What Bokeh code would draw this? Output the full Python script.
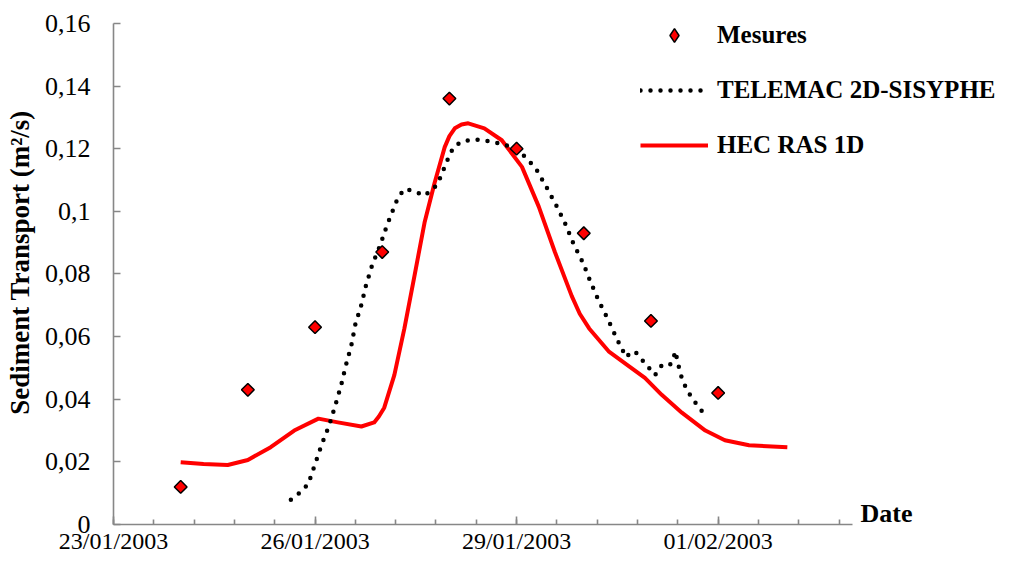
import numpy as np
import pandas as pd
from bokeh.plotting import figure
from bokeh.models import (Range1d, FixedTicker, Legend, LegendItem, Label,
                          DatetimeTickFormatter)
from bokeh.embed import file_html
from bokeh.resources import INLINE

# ---------------- data ----------------
START = "23/01/2003"
END = "03/02/2003"

x_tick_labels = ["23/01/2003", "26/01/2003", "29/01/2003", "01/02/2003"]
x_minor_step_days = 0.6
y_ticks = [0, 0.02, 0.04, 0.06, 0.08, 0.1, 0.12, 0.14, 0.16]
y_tick_labels = ["0", "0,02", "0,04", "0,06", "0,08", "0,1", "0,12", "0,14", "0,16"]

# days after 23/01/2003 00:00
mesures_day = [1, 2, 3, 4, 5, 6, 7, 8, 9]
mesures_val = [0.012, 0.043, 0.063, 0.087, 0.136, 0.120, 0.093, 0.065, 0.042]

hec_day = [1.00, 1.34, 1.70, 2.00, 2.34, 2.69, 3.05, 3.34, 3.69, 3.88, 3.95, 4.03, 4.18,
           4.33, 4.48, 4.63, 4.78, 4.93, 5.00, 5.08, 5.18, 5.28, 5.52, 5.78, 6.08, 6.33, 6.57,
           6.82, 6.94, 7.08, 7.37, 7.67, 7.91, 8.16, 8.46, 8.81, 9.10, 9.46, 10.03]
hec_val = [0.0199, 0.0193, 0.0190, 0.0206, 0.0247, 0.0300, 0.0338, 0.0326, 0.0313,
           0.0326, 0.0345, 0.0373, 0.0477, 0.0626, 0.0794, 0.0964, 0.1091, 0.1205, 0.1240,
           0.1265, 0.1277, 0.1281, 0.1265, 0.1227, 0.1142, 0.1015, 0.0870, 0.0730, 0.0673,
           0.0626, 0.0553, 0.0506, 0.0468, 0.0414, 0.0357, 0.0300, 0.0269, 0.0253, 0.0247]

telemac_day = [2.64, 2.79, 2.90, 3.00, 3.10, 3.21, 3.30, 3.39, 3.46, 3.54,
               3.60, 3.69, 3.76, 3.85, 3.97, 4.07, 4.18, 4.24, 4.34, 4.49,
               4.63, 4.82, 4.88, 5.00, 5.07, 5.21, 5.36, 5.51, 5.66, 5.81,
               5.94, 6.07, 6.19, 6.30, 6.45, 6.60, 6.73, 6.85, 6.99, 7.10,
               7.22, 7.36, 7.49, 7.63, 7.69, 7.76, 7.87, 7.97, 8.06, 8.15,
               8.27, 8.33, 8.36, 8.40, 8.43, 8.48, 8.55, 8.64, 8.73, 8.82]
telemac_val = [0.0079, 0.0104, 0.0130, 0.0193, 0.0256, 0.0316, 0.0379, 0.0446, 0.0509, 0.0572,
               0.0639, 0.0702, 0.0765, 0.0828, 0.0892, 0.0955, 0.1015, 0.1047, 0.1072, 0.1062,
               0.1050, 0.1085, 0.1116, 0.1179, 0.1208, 0.1224, 0.1230, 0.1227, 0.1221, 0.1214,
               0.1202, 0.1186, 0.1160, 0.1132, 0.1075, 0.1015, 0.0958, 0.0895, 0.0835, 0.0775,
               0.0715, 0.0655, 0.0594, 0.0534, 0.0547, 0.0553, 0.0525, 0.0500, 0.0477, 0.0506,
               0.0506, 0.0525, 0.0553, 0.0519, 0.0487, 0.0455, 0.0424, 0.0395, 0.0370, 0.0345]

# ---------------- layout (pixels) ----------------
W, H = 999, 556
LEFT = 113                # frame left = y axis position
AX_RIGHT = 852            # where the x axis ends
Y0_PX, Y16_PX = 526, 23   # pixel rows of 0 and 0.16
FONT = "Liberation Serif"
AXIS_GREY = "#878787"

t0 = pd.to_datetime(START, format="%d/%m/%Y")
t1 = pd.to_datetime(END, format="%d/%m/%Y")
EPOCH = pd.Timestamp("1970-01-01")


def to_dates(days):
    return list(t0 + pd.to_timedelta(np.asarray(days, dtype=float), unit="D"))


def to_ms(ts):
    return (ts - EPOCH) / pd.Timedelta(milliseconds=1)


span_days = (t1 - t0) / pd.Timedelta(days=1)
px_per_day = (AX_RIGHT - LEFT) / span_days
x_end = t0 + pd.Timedelta(days=(W - LEFT) / px_per_day)

y_top = y_ticks[-1]
px_per_val = (Y0_PX - Y16_PX) / y_top
y_end = y_top + Y16_PX / px_per_val

major_dates = [pd.to_datetime(s, format="%d/%m/%Y") for s in x_tick_labels]
major_ms = [to_ms(d) for d in major_dates]
n_minor = int(round(span_days / x_minor_step_days))
minor_ms = [to_ms(t0 + pd.Timedelta(days=x_minor_step_days * k)) for k in range(n_minor + 1)]

# ---------------- figure ----------------
p = figure(width=W, height=H, x_axis_type="datetime",
           x_range=Range1d(t0, x_end), y_range=Range1d(0, y_end),
           output_backend="svg", toolbar_location=None,
           min_border_left=LEFT, min_border_right=0,
           min_border_top=0, min_border_bottom=H - Y0_PX)
p.outline_line_color = None
p.xgrid.grid_line_color = None
p.ygrid.grid_line_color = None
p.background_fill_color = "white"
p.border_fill_color = "white"

# x axis
xa = p.xaxis[0]
xa.bounds = (to_ms(t0), to_ms(t1))
xa.ticker = FixedTicker(ticks=major_ms, minor_ticks=minor_ms)
xa.formatter = DatetimeTickFormatter(days="%d/%m/%Y", months="%d/%m/%Y", years="%d/%m/%Y",
                                     hours="%d/%m/%Y")
xa.major_label_overrides = {m: l for m, l in zip(major_ms, x_tick_labels)}
xa.axis_line_color = AXIS_GREY
xa.axis_line_width = 1.6
xa.major_tick_line_color = AXIS_GREY
xa.major_tick_line_width = 1.6
xa.minor_tick_line_color = AXIS_GREY
xa.minor_tick_line_width = 1.6
xa.major_tick_in = 8
xa.major_tick_out = 0
xa.minor_tick_in = 5
xa.minor_tick_out = 0
xa.major_label_text_font = FONT
xa.major_label_text_font_size = "24px"
xa.major_label_text_color = "black"
xa.major_label_standoff = 3

# y axis
ya = p.yaxis[0]
ya.bounds = (0, y_top)
ya.ticker = FixedTicker(ticks=y_ticks, minor_ticks=[])
ya.major_label_overrides = {t: l for t, l in zip(y_ticks, y_tick_labels)}
ya.axis_line_color = AXIS_GREY
ya.axis_line_width = 1.6
ya.major_tick_line_color = AXIS_GREY
ya.major_tick_line_width = 1.6
ya.major_tick_in = 7
ya.major_tick_out = 0
ya.minor_tick_line_color = None
ya.major_label_text_font = FONT
ya.major_label_text_font_size = "26px"
ya.major_label_text_color = "black"
ya.major_label_standoff = 23
ya.axis_label = "Sediment Transport (m²/s)"
ya.axis_label_text_font = FONT
ya.axis_label_text_font_style = "bold"
ya.axis_label_text_font_size = "27px"
ya.axis_label_text_color = "black"
ya.axis_label_standoff = 7

# series
r_hec = p.line(to_dates(hec_day), hec_val, line_color="#FF0000", line_width=4,
               line_join="round")
r_tel = p.line(to_dates(telemac_day), telemac_val, line_color="black", line_width=4.5,
               line_dash="0 10", line_cap="round")
r_mes = p.scatter(to_dates(mesures_day), mesures_val, marker="square", angle=np.pi / 4,
                  size=9, fill_color="#FF0000", line_color="black", line_width=1.5)
# legend swatch for the measurements: a diamond with no visible point of its own
r_mes_key = p.scatter(x=to_dates(mesures_day[:1]), y=[np.nan], marker="diamond",
                      fill_color="#FF0000", line_color="black", line_width=1.5)

# "Date" title at the end of the x axis
p.add_layout(Label(x=t1, y=0, text="Date", x_offset=8, y_offset=11,
                   text_align="left", text_baseline="alphabetic", text_font=FONT,
                   text_font_style="bold", text_font_size="26px", text_color="black"))

# legend
GLYPH_H = 34
SPACING = 21
LEG_TOP = 20
legend = Legend(items=[LegendItem(label="Mesures", renderers=[r_mes_key]),
                       LegendItem(label="TELEMAC 2D-SISYPHE", renderers=[r_tel]),
                       LegendItem(label="HEC RAS 1D", renderers=[r_hec])],
                location=(640 - LEFT, Y0_PX - (LEG_TOP + 3 * GLYPH_H + 2 * SPACING)),
                orientation="vertical",
                glyph_width=68, glyph_height=GLYPH_H, label_height=GLYPH_H,
                label_standoff=9, spacing=SPACING, padding=0, margin=0,
                border_line_alpha=0, background_fill_alpha=0,
                inactive_fill_alpha=0,
                label_text_font=FONT, label_text_font_style="bold",
                label_text_font_size="25px", label_text_color="black",
                label_text_baseline="middle")
p.add_layout(legend)

open("out.html", "w").write(file_html(p, INLINE))
